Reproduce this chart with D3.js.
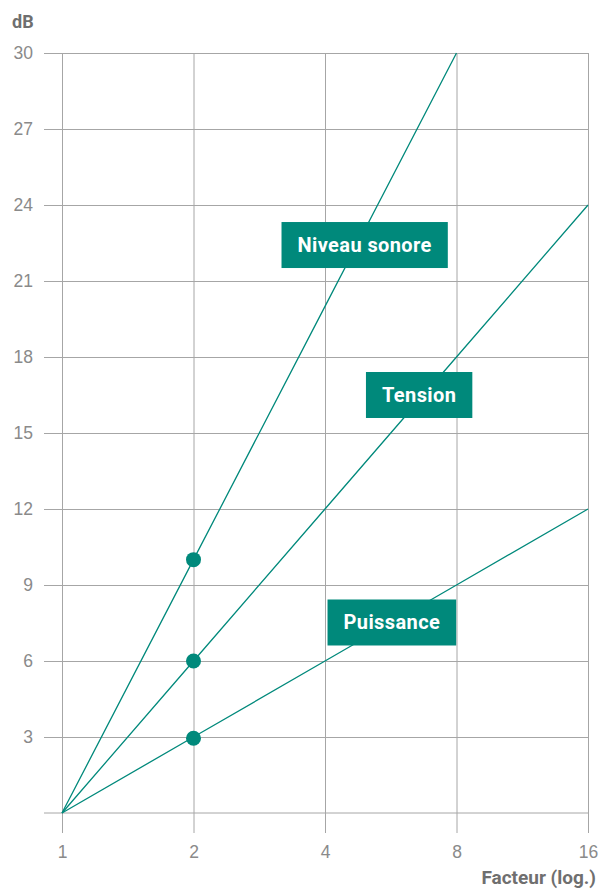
<!DOCTYPE html>
<html>
<head>
<meta charset="utf-8">
<script src="https://cdn.jsdelivr.net/npm/d3@7"></script>
<style>
html,body{margin:0;padding:0;background:#fff;}
svg{display:block;font-family:Roboto,"Noto Sans",sans-serif;}
</style>
</head>
<body>
<svg id="chart" width="600" height="890"></svg>
<script>
const xTicks = [1, 2, 4, 8, 16];
const yTicks = [0, 3, 6, 9, 12, 15, 18, 21, 24, 27, 30];
const seriesNames = ["Niveau sonore", "Tension", "Puissance"];
const niveauX = [1, 2, 4, 8];
const niveauY = [0, 10, 20, 30];
const tensionX = [1, 2, 4, 8, 16];
const tensionY = [0, 6, 12, 18, 24];
const puissanceX = [1, 2, 4, 8, 16];
const puissanceY = [0, 3, 6, 9, 12];
const markerX = [2, 2, 2];
const markerY = [10, 6, 2.95];
const labelX = [4.93, 6.57, 5.69];
const labelY = [22.42, 16.5, 7.52];
const yTitle = "dB";
const xTitle = "Facteur (log.)";

const teal = "#00897b";
const grid = "#a6a6a6";
const svg = d3.select("#chart");
const m = {left: 62, right: 12, top: 53, bottom: 77};
const W = 600, H = 890;
const x = d3.scaleLog().base(2).domain([1, 16]).range([m.left, W - m.right]);
const y = d3.scaleLinear().domain([0, 30]).range([H - m.bottom, m.top]);

// horizontal grid + y axis
const yAxis = d3.axisLeft(y).tickValues(yTicks.filter(d => d > 0))
  .tickSize(-(x(16) - x(1))).tickPadding(11).tickFormat(d3.format("d"));
const gy = svg.append("g").attr("transform", `translate(${x(1)},0)`).call(yAxis);
gy.select(".domain").remove();
gy.selectAll(".tick line").attr("stroke", grid).attr("x1", -18);
gy.selectAll(".tick text").attr("fill", "#8a8a8a").style("font-size", "17.5px").attr("x", -29);

// baseline
svg.append("line").attr("x1", x(1) - 18).attr("x2", x(16))
  .attr("y1", y(0)).attr("y2", y(0)).attr("stroke", grid);

// vertical grid + x axis
const xAxis = d3.axisBottom(x).tickValues(xTicks)
  .tickSize(-(y(0) - y(30))).tickFormat(d3.format("d"));
const gx = svg.append("g").attr("transform", `translate(0,${y(0)})`).call(xAxis);
gx.select(".domain").remove();
gx.selectAll(".tick line").attr("stroke", grid).attr("y1", 20);
gx.selectAll(".tick text").attr("fill", "#8a8a8a").style("font-size", "17.5px").attr("y", 33);

// titles
svg.append("text").attr("x", 12).attr("y", 28).text(yTitle)
  .attr("fill", "#6f6f6f").style("font-size", "18px").style("font-weight", "bold");
svg.append("text").attr("x", 596).attr("y", 884).attr("text-anchor", "end").text(xTitle)
  .attr("fill", "#6f6f6f").style("font-size", "19px").style("font-weight", "bold");

// lines
const line = d3.line().x(d => x(d[0])).y(d => y(d[1]));
const series = [
  d3.zip(niveauX, niveauY),
  d3.zip(tensionX, tensionY),
  d3.zip(puissanceX, puissanceY)
];
series.forEach(s => {
  svg.append("path").datum(s).attr("d", line)
    .attr("fill", "none").attr("stroke", teal).attr("stroke-width", 1.3);
});

// markers
markerX.forEach((mx, i) => {
  svg.append("circle").attr("cx", x(mx)).attr("cy", y(markerY[i])).attr("r", 7.5).attr("fill", teal);
});

// labels
seriesNames.forEach((name, i) => {
  const g = svg.append("g").attr("transform", `translate(${x(labelX[i])},${y(labelY[i])})`);
  const rect = g.append("rect").attr("fill", teal);
  const t = g.append("text").text(name).attr("text-anchor", "middle").attr("dy", "0.35em")
    .attr("fill", "#fff").style("font-size", "20px").style("font-weight", "bold")
    .style("letter-spacing", "0.4px");
  const bb = t.node().getBBox();
  const w = bb.width + 32, h = 46;
  rect.attr("x", -w / 2).attr("y", -h / 2).attr("width", w).attr("height", h);
});
</script>
</body>
</html>
